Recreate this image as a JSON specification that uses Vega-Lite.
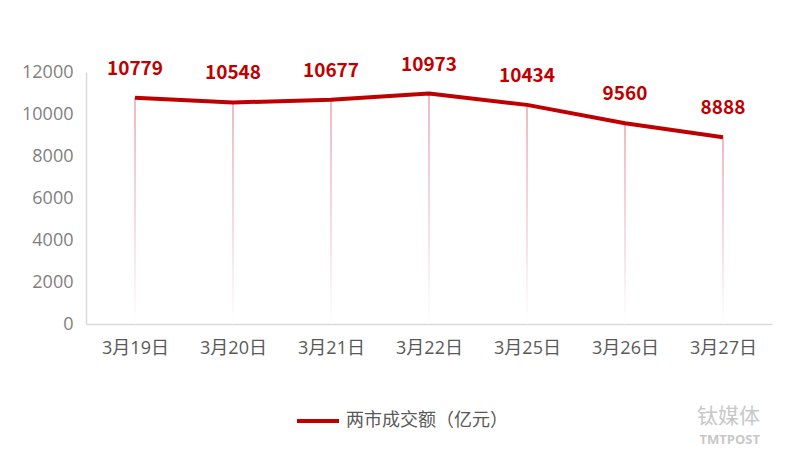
{
  "$schema": "https://vega.github.io/schema/vega-lite/v6.json",
  "width": 686,
  "height": 252,
  "autosize": "none",
  "padding": {"left": 86, "top": 72, "right": 22, "bottom": 141},
  "background": "#ffffff",
  "config": {
    "view": {"stroke": null},
    "font": "Open Sans, Noto Sans CJK SC"
  },
  "title": {
    "text": "钛媒体",
    "subtitle": "TMTPOST",
    "orient": "bottom",
    "anchor": "end",
    "offset": 0,
    "dy": -24,
    "dx": -12,
    "font": "Noto Sans CJK SC",
    "fontSize": 21,
    "fontWeight": "normal",
    "color": "#c8c8c8",
    "subtitleFont": "Open Sans",
    "subtitleColor": "#c8c8c8",
    "subtitleFontSize": 13,
    "subtitleFontWeight": "bold",
    "subtitlePadding": 7
  },
  "data": {
    "values": [
      {"date": "3月19日", "value": 10779},
      {"date": "3月20日", "value": 10548},
      {"date": "3月21日", "value": 10677},
      {"date": "3月22日", "value": 10973},
      {"date": "3月25日", "value": 10434},
      {"date": "3月26日", "value": 9560},
      {"date": "3月27日", "value": 8888}
    ]
  },
  "encoding": {
    "x": {
      "field": "date",
      "type": "nominal",
      "sort": null,
      "scale": {"type": "point", "padding": 0.5},
      "axis": {
        "title": null,
        "labelAngle": 0,
        "ticks": false,
        "labelPadding": 15,
        "labelFontSize": 18,
        "labelColor": "#595959",
        "domainColor": "#d9d9d9",
        "domainWidth": 1.5,
        "grid": false
      }
    },
    "y": {
      "field": "value",
      "type": "quantitative",
      "scale": {"domain": [0, 12000], "nice": false},
      "axis": {
        "title": null,
        "values": [0, 2000, 4000, 6000, 8000, 10000, 12000],
        "format": "d",
        "ticks": false,
        "labelPadding": 13,
        "labelFont": "Open Sans",
        "labelFontSize": 18,
        "labelColor": "#7f7f7f",
        "domainColor": "#d9d9d9",
        "domainWidth": 1.5,
        "grid": false
      }
    }
  },
  "layer": [
    {
      "mark": {
        "type": "bar",
        "size": 1.5,
        "fill": {
          "gradient": "linear",
          "x1": 0, "y1": 0, "x2": 0, "y2": 1,
          "stops": [
            {"offset": 0, "color": "#e9a2b2"},
            {"offset": 0.6, "color": "#f5d5dc"},
            {"offset": 1, "color": "#ffffff"}
          ]
        }
      }
    },
    {
      "mark": {"type": "line", "strokeWidth": 4, "strokeJoin": "round"},
      "encoding": {
        "color": {
          "datum": "两市成交额（亿元）",
          "type": "nominal",
          "scale": {"range": ["#c00000"]},
          "legend": {
            "title": null,
            "orient": "none",
            "legendX": 209,
            "legendY": 326,
            "symbolType": "stroke",
            "symbolStrokeWidth": 4,
            "symbolSize": 1764,
            "labelFont": "Noto Sans CJK SC",
            "labelFontSize": 18,
            "labelLimit": 400,
            "labelColor": "#595959",
            "labelOffset": 5
          }
        }
      }
    },
    {
      "mark": {
        "type": "text",
        "dy": -29,
        "font": "Noto Sans CJK SC",
        "fontSize": 19,
        "fontWeight": "bold",
        "color": "#c00000"
      },
      "encoding": {
        "text": {"field": "value", "type": "quantitative", "format": "d"}
      }
    }
  ]
}
